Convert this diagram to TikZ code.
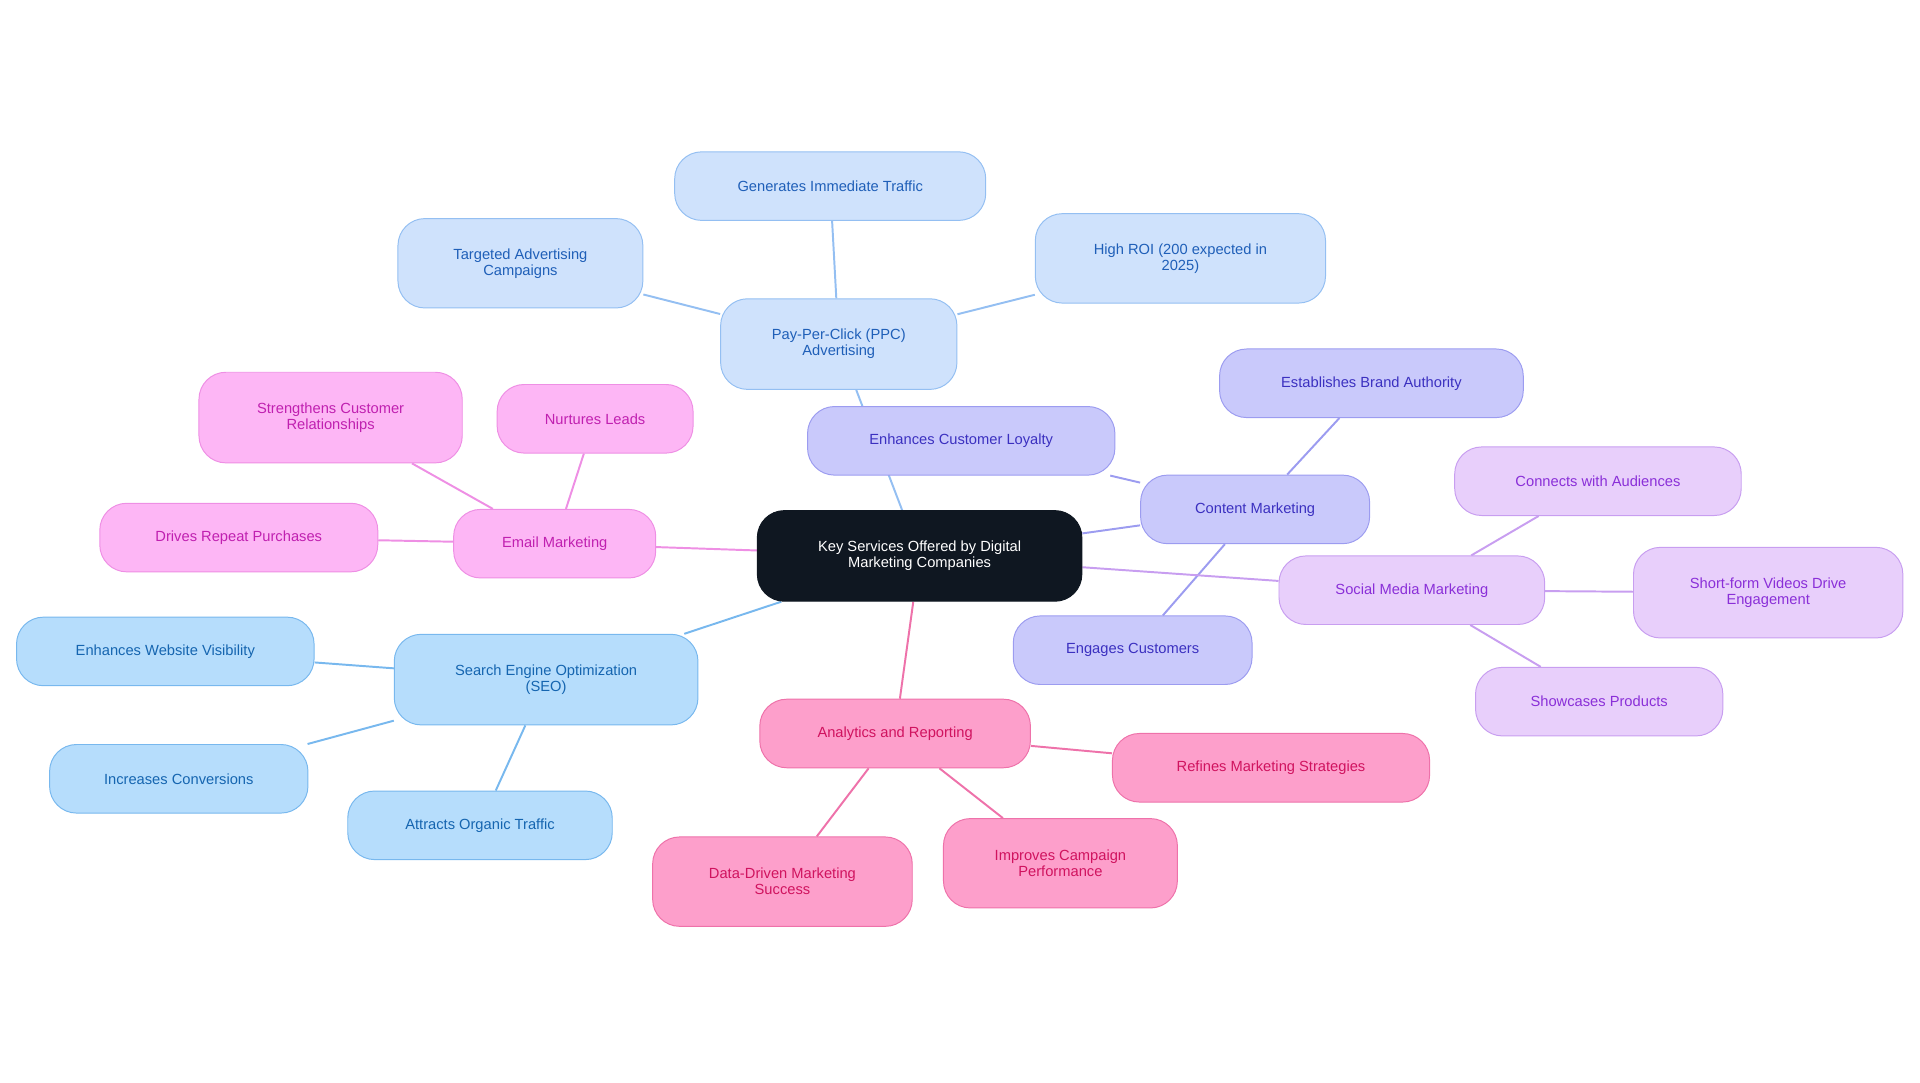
\documentclass[tikz,border=0pt]{standalone}
\usepackage{fontspec}
\setmainfont{Liberation Sans}
\usetikzlibrary{backgrounds}
\definecolor{rootf}{HTML}{0F1721}
\definecolor{ppcf}{HTML}{CFE2FC}\definecolor{ppcd}{HTML}{94BFF2}\definecolor{ppct}{HTML}{1F5FB8}
\definecolor{cmf}{HTML}{C9C9FB}\definecolor{cmd}{HTML}{9C9CF0}\definecolor{cmt}{HTML}{3B30C0}
\definecolor{smf}{HTML}{E8CFFB}\definecolor{smd}{HTML}{C89EF0}\definecolor{smt}{HTML}{8A2FD8}
\definecolor{arf}{HTML}{FD9FCB}\definecolor{ard}{HTML}{EE72AA}\definecolor{art}{HTML}{D0135F}
\definecolor{emf}{HTML}{FDB6F5}\definecolor{emd}{HTML}{EE8FE4}\definecolor{emt}{HTML}{C020B0}
\definecolor{sef}{HTML}{B6DDFC}\definecolor{sed}{HTML}{78B8EE}\definecolor{set}{HTML}{1565B0}
\tikzset{
 box/.style={rounded corners=22pt,line width=0.8pt,align=center,inner sep=0pt,font=\fontsize{12}{13}\selectfont},
 bppc/.style={box,fill=ppcf,draw=ppcd,text=ppct},
 bcm/.style={box,fill=cmf,draw=cmd,text=cmt},
 bsm/.style={box,fill=smf,draw=smd,text=smt},
 bar/.style={box,fill=arf,draw=ard,text=art},
 bem/.style={box,fill=emf,draw=emd,text=emt},
 bse/.style={box,fill=sef,draw=sed,text=set},
 brt/.style={box,fill=rootf,draw=rootf,text=white},
 edge/.style={line width=1.6pt},
}
\newcommand{\bx}[7]{\node[#1,minimum width=#5pt,minimum height=#6pt] (#2) at (#3pt,-#4pt) {#7};}
\begin{document}
\begin{tikzpicture}
\useasboundingbox (0,0) rectangle (1568pt,-884pt);
\bx{brt}{root}{751}{454}{265}{74}{Key Services Offered by Digital\\Marketing Companies}
\bx{bppc}{ppc}{685}{281}{193}{74}{Pay-Per-Click (PPC)\\Advertising}
\bx{bppc}{git}{678}{152}{254}{56}{Generates Immediate Traffic}
\bx{bppc}{tac}{425}{215}{200}{73}{Targeted Advertising\\Campaigns}
\bx{bppc}{roi}{964}{211}{237}{73}{High ROI (200 expected in\\2025)}
\bx{bcm}{ncm}{1025}{416}{187}{56}{Content Marketing}
\bx{bcm}{ecl}{785}{360}{251}{56}{Enhances Customer Loyalty}
\bx{bcm}{eba}{1120}{313}{248}{56}{Establishes Brand Authority}
\bx{bcm}{ec}{925}{531}{195}{56}{Engages Customers}
\bx{bsm}{nsm}{1153}{482}{217}{56}{Social Media Marketing}
\bx{bsm}{cwa}{1305}{393}{234}{56}{Connects with Audiences}
\bx{bsm}{sfv}{1444}{484}{220}{74}{Short-form Videos Drive\\Engagement}
\bx{bsm}{nsp}{1306}{573}{202}{56}{Showcases Products}
\bx{bar}{nar}{731}{599}{221}{56}{Analytics and Reporting}
\bx{bar}{rms}{1038}{627}{259}{56}{Refines Marketing Strategies}
\bx{bar}{icp}{866}{705}{191}{73}{Improves Campaign\\Performance}
\bx{bar}{ddm}{639}{720}{212}{73}{Data-Driven Marketing\\Success}
\bx{bem}{nem}{453}{444}{165}{56}{Email Marketing}
\bx{bem}{scr}{270}{341}{215}{74}{Strengthens Customer\\Relationships}
\bx{bem}{nl}{486}{342}{160}{56}{Nurtures Leads}
\bx{bem}{drp}{195}{439}{227}{56}{Drives Repeat Purchases}
\bx{bse}{seo}{446}{555}{248}{74}{Search Engine Optimization\\(SEO)}
\bx{bse}{ewv}{135}{532}{243}{56}{Enhances Website Visibility}
\bx{bse}{nic}{146}{636}{211}{56}{Increases Conversions}
\bx{bse}{aot}{392}{674}{216}{56}{Attracts Organic Traffic}
\begin{scope}[on background layer]
\draw[edge,ppcd] (root)--(ppc) (ppc)--(git) (ppc)--(tac) (ppc)--(roi);
\draw[edge,cmd] (root)--(ncm) (ncm)--(ecl) (ncm)--(eba) (ncm)--(ec);
\draw[edge,smd] (root)--(nsm) (nsm)--(cwa) (nsm)--(sfv) (nsm)--(nsp);
\draw[edge,ard] (root)--(nar) (nar)--(rms) (nar)--(icp) (nar)--(ddm);
\draw[edge,emd] (root)--(nem) (nem)--(scr) (nem)--(nl) (nem)--(drp);
\draw[edge,sed] (root)--(seo) (seo)--(ewv) (seo)--(nic) (seo)--(aot);
\end{scope}
\end{tikzpicture}
\end{document}
